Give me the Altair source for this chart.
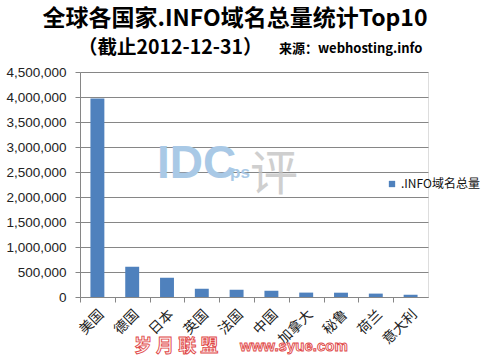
import altair as alt
import pandas as pd

countries = ["美国", "德国", "日本", "英国", "法国", "中国", "加拿大", "秘鲁", "荷兰", "意大利"]
totals = [3970000, 605000, 385000, 165000, 145000, 125000, 88000, 86000, 68000, 45000]
series_name = ".INFO域名总量"
y_ticks = [0, 500000, 1000000, 1500000, 2000000, 2500000, 3000000, 3500000, 4000000, 4500000]

title_main = "全球各国家.INFO域名总量统计Top10"
title_date = "（截止2012-12-31）"
title_source = "来源：webhosting.info"
watermark_cn = "岁 月 联 盟"
watermark_url = "www.syue.com"

df = pd.DataFrame({"country": countries, "total": totals, "series": [series_name] * len(countries)})

W, H = 348, 225
STEP = W / 10.0

bars = alt.Chart(df).mark_bar(color="#4F81BD").encode(
    x=alt.X("country:N", sort=countries, title=None,
            scale=alt.Scale(paddingInner=0.6, paddingOuter=0.3),
            axis=alt.Axis(labelAngle=315, labelAlign="right", labelBaseline="middle",
                          labelFont="Noto Sans CJK SC", labelFontSize=14, labelColor="#222222",
                          tickOffset=-STEP / 2, labelOffset=STEP / 2 + 4, labelPadding=10,
                          tickSize=5, tickColor="#868686", domainColor="#868686",
                          grid=False)),
    y=alt.Y("total:Q", title=None,
            scale=alt.Scale(domain=[0, 4500000], nice=False),
            axis=alt.Axis(values=y_ticks, format=",d", labelFont="Liberation Sans",
                          labelFontSize=13.5, labelColor="#222222", tickSize=5,
                          tickColor="#868686", domainColor="#868686", labelPadding=9,
                          grid=True, gridColor="#868686", gridWidth=1)),
    color=alt.Color("series:N", title=None,
                    scale=alt.Scale(range=["#4F81BD"]),
                    legend=alt.Legend(orient="none", legendX=306, legendY=106,
                                      symbolType="square", symbolSize=40,
                                      symbolStrokeWidth=0,
                                      labelFont="Noto Sans CJK SC", labelFontSize=12,
                                      labelColor="#111111", labelOffset=3)),
)

def txt(text, x, y, size, color="#000000", weight="normal", align="left", font="Noto Sans CJK SC", **kw):
    return alt.Chart(df.head(1)).mark_text(
        text=text, fontSize=size, fontWeight=weight, align=align, baseline="alphabetic",
        font=font, color=color, **kw
    ).encode(x=alt.value(x), y=alt.value(y))

t1 = txt(title_main, 155, -46, 23, weight="bold", align="center")
t2 = txt(title_date, -2, -18, 19.5, weight="bold")
t3 = txt(title_source, 199, -19, 13, weight="bold")
logo1 = txt("IDC", 77, 106, 46, color="#a9c9e6", weight="bold", font="Liberation Sans")
logo2 = txt("ps", 150, 106, 17, color="#a9c9e6", weight="bold", font="Liberation Sans")
logo3 = txt("评", 170, 118, 48, color="#c4c4c4", font="Noto Sans CJK SC", opacity=0.8)
wm1 = txt(watermark_cn, 54, 280, 18, color="#fff4f4", weight="bold", stroke="#e04848", strokeWidth=0.9)
wm2 = txt(watermark_url, 160, 279, 15, color="#fff4f4", weight="bold", font="Liberation Sans",
          stroke="#e04848", strokeWidth=0.9)

chart = alt.layer(bars, logo1, logo2, logo3, t1, t2, t3, wm1, wm2).properties(
    width=W, height=H,
    autosize=alt.AutoSizeParams(type="none"),
    padding={"left": 80, "top": 72, "right": 54, "bottom": 59},
).configure_view(stroke=None).configure(background="#ffffff")

chart.save("out.html", embed_options={"renderer": "svg", "actions": False})
